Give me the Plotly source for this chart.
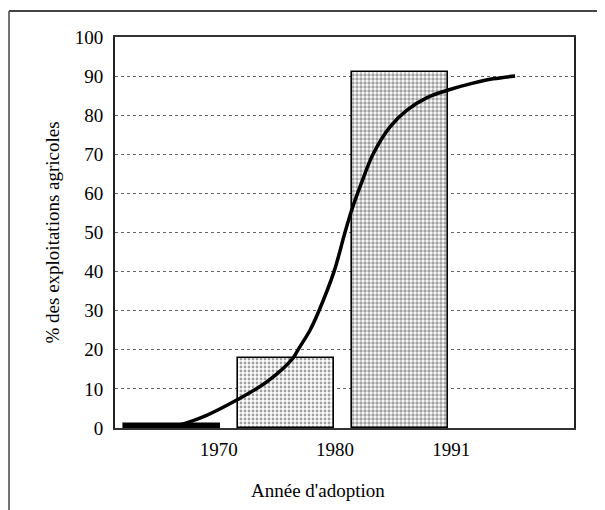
import plotly.graph_objects as go

# ---- data ----
periods = ["avant 1970", "1970-1980", "1980-1991"]
period_pos = [0.43, 1.43, 2.43]          # bar centres along the period axis
bar_values = [1, 18, 91]                  # % des exploitations (per period)
bar_density = [0.9, 0.4, 0.58]           # stipple density of each bar
bar_shape = ["", ".", "."]
bar_back = ["black", "white", "white"]

curve_x = [0.412, 0.675, 1.006, 1.261, 1.491, 1.535, 1.640, 1.719, 1.851, 1.947,
           2.009, 2.096, 2.193, 2.342, 2.491, 2.667, 2.860, 3.070, 3.246, 3.439]
curve_y = [0, 2.5, 7.3, 11.8, 17.9, 20, 25, 30, 40, 50,
           56, 63, 70, 77, 81.3, 84.5, 86.5, 88.2, 89.3, 90]

tick_pos = [0.84, 1.86, 2.88]
tick_text = ["1970", "1980", "1991"]
y_ticks = list(range(0, 101, 10))

FONT = "Liberation Serif"

fig = go.Figure()

fig.add_trace(go.Bar(
    x=period_pos, y=bar_values, width=0.85,
    hovertext=periods,
    marker=dict(
        color=bar_back,
        line=dict(color="black", width=1.6),
        pattern=dict(shape=bar_shape, fgcolor="#111",
                     size=4, solidity=bar_density, fillmode="overlay"),
    ),
    showlegend=False,
))

fig.add_trace(go.Scatter(
    x=curve_x, y=curve_y, mode="lines",
    line=dict(color="black", width=3.5, shape="spline", smoothing=1.0),
    showlegend=False,
))

# the page body adds an 8 px offset, so everything is placed 8 px up/left
OFF = 8
FW, FH = 605 - OFF, 510 - OFF
# plot area in page pixels: x 115..574, y 37..428
L, T, W, H = 115 - OFF, 37 - OFF, 459, 391
def px(xp):
    return (xp - OFF - L) / W
def py(yp):
    return (T + H - (yp - OFF)) / H

fig.update_layout(
    width=FW, height=FH,
    margin=dict(l=L, r=FW - L - W, t=T, b=FH - T - H),
    paper_bgcolor="white", plot_bgcolor="white",
    font=dict(family=FONT, size=19, color="black"),
    bargap=0,
    xaxis=dict(
        range=[-0.0702, 3.956],
        tickmode="array", tickvals=tick_pos, ticktext=tick_text,
        showgrid=False, zeroline=False,
        showline=True, linecolor="#333", linewidth=2, mirror=True,
        ticks="", ticklabelstandoff=3,
        tickfont=dict(family=FONT, size=19, color="black"),
    ),
    yaxis=dict(
        range=[0, 100],
        tickmode="array", tickvals=y_ticks,
        showgrid=True, gridcolor="#666", gridwidth=1, griddash="dot",
        zeroline=False,
        showline=True, linecolor="#222", linewidth=2, mirror=True,
        ticks="", ticklabelstandoff=6,
        tickfont=dict(family=FONT, size=19, color="black"),
    ),
    annotations=[
        dict(text="% des exploitations agricoles", xref="paper", yref="paper",
             x=px(52), y=0.5, textangle=-90, showarrow=False,
             font=dict(family=FONT, size=19, color="black"),
             xanchor="center", yanchor="middle"),
        dict(text="Année d'adoption", xref="paper", yref="paper",
             x=px(318), y=py(490), showarrow=False,
             font=dict(family=FONT, size=19, color="black"),
             xanchor="center", yanchor="middle"),
    ],
    shapes=[
        dict(type="line", xref="paper", yref="paper",
             x0=px(9), x1=px(606), y0=py(11), y1=py(11),
             line=dict(color="#444", width=2)),
        dict(type="line", xref="paper", yref="paper",
             x0=px(9), x1=px(9), y0=py(11), y1=py(512),
             line=dict(color="#444", width=1.5)),
    ],
)

fig.write_html("out.html")
